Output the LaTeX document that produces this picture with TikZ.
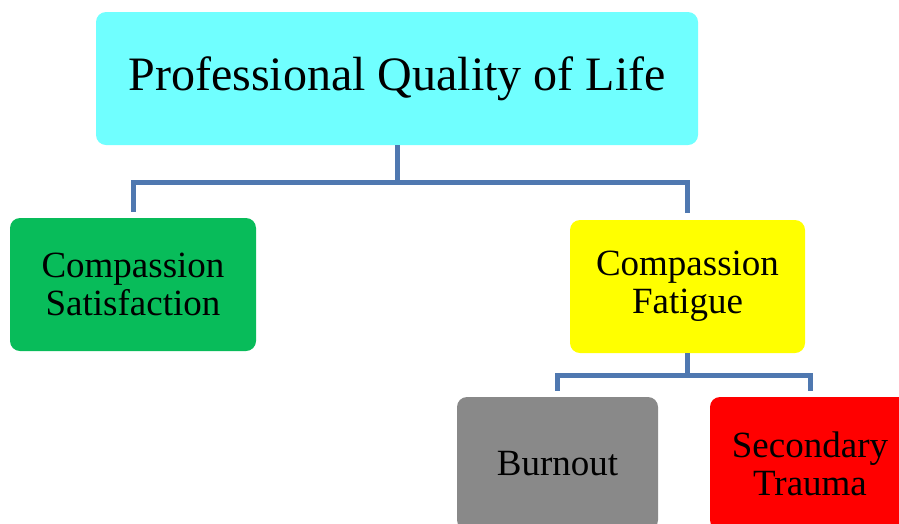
\documentclass[tikz,border=0pt]{standalone}
\usepackage{fontspec}
\setmainfont{Liberation Serif}
\begin{document}
\begin{tikzpicture}[x=1pt,y=-1pt,
  box/.style={rounded corners=10pt,inner sep=0pt,align=center,text=black,
    font=\fontsize{37}{38}\selectfont},
  link/.style={draw={rgb,255:red,79;green,120;blue,176},line width=5pt}]
%set diagram size to the original picture, 899 by 523
\useasboundingbox (0,0) rectangle (899,523);
\clip (0,0) rectangle (899,523);

%Shape: Rounded Rect [top level]
\node (pqol) [box,fill={rgb,255:red,112;green,255;blue,255},minimum width=602pt,minimum height=133pt,
  font=\fontsize{48}{50}\selectfont] at (397,78.5) {Professional Quality of Life};
%Shape: Rounded Rect [second level]
\node (cs) [box,fill={rgb,255:red,8;green,188;blue,90},minimum width=246pt,minimum height=133pt]
  at (133,284.5) {Compassion\\Satisfaction};
\node (cf) [box,fill={rgb,255:red,255;green,255;blue,0},minimum width=235pt,minimum height=133pt]
  at (687.5,286.5) {Compassion\\Fatigue};
%Shape: Rounded Rect [third level]
\node (bo) [box,fill={rgb,255:red,137;green,137;blue,137},minimum width=201pt,minimum height=133pt]
  at (557.5,463.5) {Burnout};
\node (st) [box,fill={rgb,255:red,255;green,0;blue,0},minimum width=200pt,minimum height=133pt]
  at (810,463.5) {Secondary\\Trauma};

%Connectors
\draw [link] (pqol.south) -- ++(0,37) -| ([yshift=6pt]cs.north);
\draw [link] (pqol.south) -- ++(0,37) -| ([yshift=7pt]cf.north);
\draw [link] (cf.south) -- ++(0,22) -| ([yshift=6pt]bo.north);
\draw [link] (cf.south) -- ++(0,22) -| ([yshift=6pt]st.north);

\end{tikzpicture}
\end{document}
